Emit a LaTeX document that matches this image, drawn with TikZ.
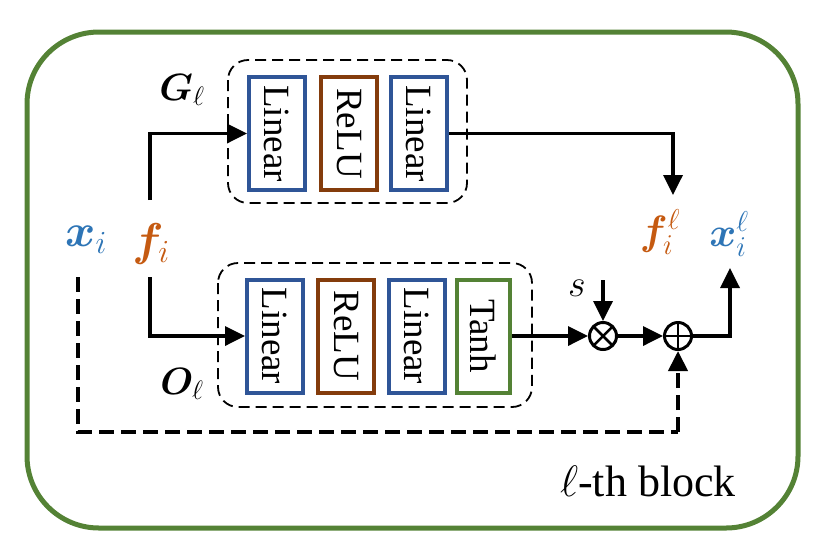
\documentclass[tikz,border=0pt]{standalone}
\usepackage{fix-cm}
\usepackage{amsmath,bm}
\usepackage{fontspec}
\setmainfont{Liberation Serif}
\usetikzlibrary{arrows.meta,calc}
\definecolor{gborder}{HTML}{548235}
\definecolor{bblue}{HTML}{2F5597}
\definecolor{bbrown}{HTML}{843C0C}
\definecolor{xblue}{HTML}{2E75B6}
\definecolor{forange}{HTML}{C55A11}
\begin{document}
\begin{tikzpicture}[x=1pt,y=-1pt,
  lbox/.style={draw, line width=4pt, fill=white, minimum width=56pt, minimum height=113pt, inner sep=0pt,
    font=\fontsize{37}{42}\selectfont},
  bluebox/.style={lbox, draw=bblue},
  brownbox/.style={lbox, draw=bbrown},
  greenbox/.style={lbox, draw=gborder},
  dbox/.style={draw, line width=1.8pt, dash pattern=on 11pt off 6pt, rounded corners=20pt},
  mlab/.style={inner sep=0pt, font=\fontsize{46}{52}\selectfont},
  sublab/.style={inner sep=0pt, font=\fontsize{38}{44}\selectfont},
  outlab/.style={inner sep=0pt, font=\fontsize{41}{46}\selectfont},
  arr/.style={line width=3.5pt, -{Triangle[length=20pt,width=19pt]}},
  opnode/.style={circle, draw, line width=3pt, minimum size=27pt, inner sep=0pt, fill=white},
]
\useasboundingbox (0,0) rectangle (832,558);
% outer block
\draw[gborder, line width=5pt, rounded corners=72pt] (27,32) rectangle (798,528);
\node[inner sep=0pt, anchor=base, font=\fontsize{44}{50}\selectfont] (blk) at (648,496) {$\ell$-th block};

% dashed containers
\draw[dbox] (228,60) rectangle (467,203);
\draw[dbox] (218,263) rectangle (532,407);

% G branch
\node[bluebox] (G1) at (277,133.5) {\rotatebox{-90}{Linear}};
\node[brownbox] (G2) at (349,133.5) {\rotatebox{-90}{ReLU}};
\node[bluebox] (G3) at (419,133.5) {\rotatebox{-90}{Linear}};
\node[sublab] (Glab) at (182,90) {$\bm{G}_{\ell}$};

% O branch
\node[bluebox] (O1) at (275,336) {\rotatebox{-90}{Linear}};
\node[brownbox] (O2) at (346,336) {\rotatebox{-90}{ReLU}};
\node[bluebox] (O3) at (417,336) {\rotatebox{-90}{Linear}};
\node[greenbox, minimum width=53pt] (O4) at (483.5,336) {\rotatebox{-90}{Tanh}};
\node[sublab] (Olab) at (182,384) {$\bm{O}_{\ell}$};

% inputs / outputs
\node[mlab, text=xblue] (xi) at (86,240) {$\bm{x}_i$};
\node[mlab, text=forange] (fi) at (151,244) {$\bm{f}_i$};
\node[outlab, text=forange] (fl) at (660,232) {$\bm{f}_i^{\ell}$};
\node[outlab, text=xblue] (xl) at (729,234) {$\bm{x}_i^{\ell}$};
\node[sublab] (s) at (577,288) {$s$};

% operators
\node[opnode, path picture={
  \draw[line width=2.5pt] (path picture bounding box.north west) -- (path picture bounding box.south east)
    (path picture bounding box.north east) -- (path picture bounding box.south west);}] (ot) at (603,336) {};
\node[opnode, path picture={
  \draw[line width=2.5pt] (path picture bounding box.north) -- (path picture bounding box.south)
    (path picture bounding box.west) -- (path picture bounding box.east);}] (op) at (678,336) {};

% coordinates for free ends
\coordinate (ftop) at (150,200);
\coordinate (fbot) at (150,277);
\coordinate (gin) at (673,195);
\coordinate (sin) at (603,280);
\coordinate (xout) at (730,268);
\coordinate (dstart) at (78,277);
\coordinate (dcorner) at (678,432);

% connectors
\draw[arr] (ftop) |- (G1.west);
\draw[arr] (fbot) |- (O1.west);
\draw[arr] (G3.east) -| (gin);
\draw[arr] (O4.east) -- (ot.west);
\draw[arr] (sin) -- (ot.north);
\draw[arr] (ot.east) -- (op.west);
\draw[arr] (op.east) -| (xout);
\draw[line width=4pt, dash pattern=on 15pt off 7pt] (dstart) |- (dcorner);
\draw[arr, line width=4pt, dash pattern=on 15pt off 7pt] (dcorner) -- (op.south);
\end{tikzpicture}
\end{document}
